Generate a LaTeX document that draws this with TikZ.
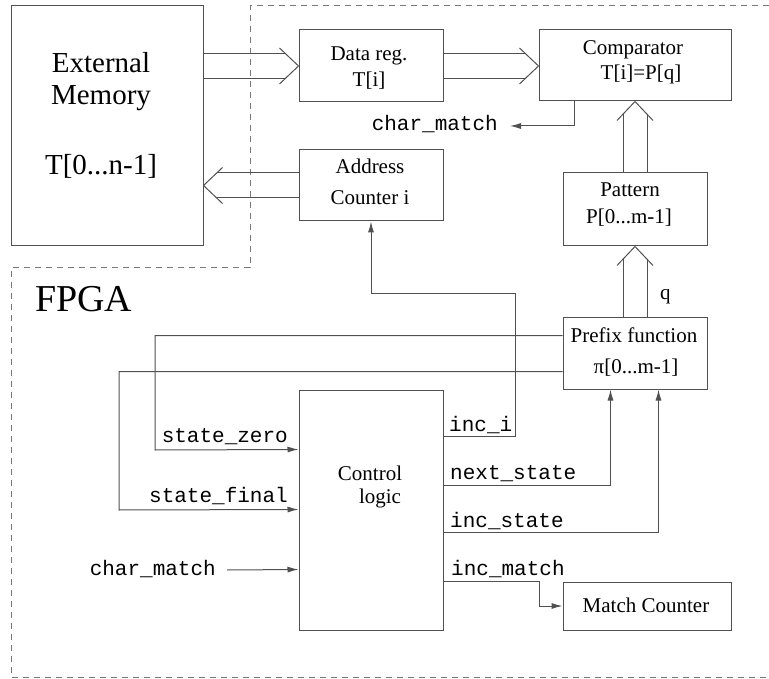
\documentclass[tikz,border=0pt]{standalone}
\usepackage{fontspec}
\setmainfont{Liberation Serif}
\setmonofont{Liberation Mono}
\usetikzlibrary{arrows.meta,calc}
\definecolor{lncol}{RGB}{80,80,80}
\definecolor{dashcol}{RGB}{120,120,120}
\tikzset{
  ln/.style={draw=lncol, line width=1pt},
  arr/.style={ln, -{Latex[length=11pt,width=6pt]}},
  blk/.style={draw=lncol, line width=1pt, inner sep=0pt, minimum width=#1},
  btxt/.style={anchor=base, inner sep=0pt, font=\fontsize{21}{25}\selectfont},
  bigtxt/.style={anchor=base, inner sep=0pt, font=\fontsize{29}{34}\selectfont},
  sig/.style={inner sep=0pt, font=\fontsize{21}{25}\selectfont\ttfamily},
  fpga/.style={draw=dashcol, line width=1pt, dash pattern=on 6pt off 5pt},
}
\begin{document}
\begin{tikzpicture}[x=1pt,y=-1pt]
\useasboundingbox (0,0) rectangle (769,679);
% FPGA boundary
\draw[fpga] (769,6) -- (250,6) -- (250,268) -- (11,268) -- (11,677) -- (769,677);
\node[anchor=base west, inner sep=0pt, font=\fontsize{38}{44}\selectfont] (fpgalbl) at (35,312) {FPGA};

% blocks
\node[blk=192pt, minimum height=240pt] (ext) at (107,126) {};
\node[bigtxt] (ext1) at (101,73) {External};
\node[bigtxt] (ext2) at (101,105) {Memory};
\node[bigtxt] (ext3) at (101,175) {T[0...n-1]};

\node[blk=144pt, minimum height=72pt] (data) at (371,66) {};
\node[btxt] (data1) at (369,61) {Data reg.};
\node[btxt] (data2) at (369,87) {T[i]};

\node[blk=192pt, minimum height=71pt] (comp) at (635,65.5) {};
\node[btxt] (comp1) at (633,55) {Comparator};
\node[btxt] (comp2) at (641,80) {T[i]=P[q]};

\node[blk=144pt, minimum height=71pt] (addr) at (371,185.5) {};
\node[btxt] (addr1) at (370,174) {Address};
\node[btxt] (addr2) at (370,205) {Counter i};

\node[blk=144pt, minimum height=73pt] (pattern) at (635,209.5) {};
\node[btxt] (pat1) at (630,197) {Pattern};
\node[btxt] (pat2) at (629,224) {P[0...m-1]};

\node[blk=144pt, minimum height=71pt] (prefix) at (635,353.5) {};
\node[btxt] (pre1) at (634,342) {Prefix function};
\node[btxt] (pre2) at (636,373) {π[0...m-1]};

\node[blk=144pt, minimum height=240pt] (ctrl) at (371,510) {};
\node[btxt] (ctl1) at (370,480) {Control};
\node[btxt] (ctl2) at (380,503) {logic};

\node[blk=168pt, minimum height=48pt] (match) at (647,606) {};
\node[btxt] (mat1) at (646,612) {Match Counter};

% double arrows (lines end where they meet the open head)
\path (ext.east |- data.west) coordinate (ed);
\draw[ln] ([yshift=12.5pt]ed) -- ([xshift=-13.2pt,yshift=12.5pt]data.west)
          ([yshift=-12.5pt]ed) -- ([xshift=-13.2pt,yshift=-12.5pt]data.west);
\draw[ln] ([xshift=-19pt,yshift=18pt]data.west) -- (data.west) -- ([xshift=-19pt,yshift=-18pt]data.west);

\path (comp.west |- data.east) coordinate (cd);
\draw[ln] ([yshift=12.5pt]data.east) -- ([xshift=-13.2pt,yshift=12.5pt]cd)
          ([yshift=-12.5pt]data.east) -- ([xshift=-13.2pt,yshift=-12.5pt]cd);
\draw[ln] ([xshift=-19pt,yshift=18pt]cd) -- (cd) -- ([xshift=-19pt,yshift=-18pt]cd);

\path (ext.east |- addr.west) coordinate (ea);
\draw[ln] ([yshift=12.5pt]addr.west) -- ([xshift=13.2pt,yshift=12.5pt]ea)
          ([yshift=-12.5pt]addr.west) -- ([xshift=13.2pt,yshift=-12.5pt]ea);
\draw[ln] ([xshift=19pt,yshift=18pt]ea) -- (ea) -- ([xshift=19pt,yshift=-18pt]ea);

\draw[ln] ([xshift=-12pt]pattern.north) -- ([xshift=-12pt,yshift=-12.7pt]comp.south)
          ([xshift=12pt]pattern.north) -- ([xshift=12pt,yshift=-12.7pt]comp.south);
\draw[ln] ([xshift=-18pt,yshift=-19pt]comp.south) -- (comp.south) -- ([xshift=18pt,yshift=-19pt]comp.south);

\draw[ln] ([xshift=-12pt]prefix.north) -- ([xshift=-12pt,yshift=-12.7pt]pattern.south)
          ([xshift=12pt]prefix.north) -- ([xshift=12pt,yshift=-12.7pt]pattern.south);
\draw[ln] ([xshift=-18pt,yshift=-19pt]pattern.south) -- (pattern.south) -- ([xshift=18pt,yshift=-19pt]pattern.south);
\node[anchor=base west, inner sep=0pt, font=\fontsize{21}{25}\selectfont] (qlbl) at (660,300) {q};

% char_match output from comparator
\coordinate (cmend) at (510,126);
\draw[arr] (comp.south west) ++(36,0) |- (cmend);
\node[sig, anchor=base east] (cmout) at (498,131) {char\_match};

% inputs to control logic
\draw[arr] ([yshift=-18pt]prefix.north west) -| (155,450) -- ([yshift=-60pt]ctrl.north west);
\node[sig, anchor=base east] (szl) at (288,442) {state\_zero};
\draw[arr] ([yshift=-54pt]prefix.north west) -| (119,510) -- ([yshift=-120pt]ctrl.north west);
\node[sig, anchor=base east] (sfl) at (288,502) {state\_final};
\coordinate (cmin) at (227,570);
\draw[arr] (cmin) -- ([yshift=-180pt]ctrl.north west);
\node[sig, anchor=base east] (cml) at (216,575) {char\_match};

% outputs of control logic
\draw[arr] ([yshift=-47pt]ctrl.north east) -| (515,294) -| (addr.south);
\node[sig, anchor=base west] (iil) at (449,431) {inc\_i};
\draw[arr] ([yshift=-96pt]ctrl.north east) -| ([xshift=48pt]prefix.south west);
\node[sig, anchor=base west] (nsl) at (450,479) {next\_state};
\draw[arr] ([yshift=-143pt]ctrl.north east) -| ([xshift=96pt]prefix.south west);
\node[sig, anchor=base west] (isl) at (450,527) {inc\_state};
\draw[arr] ([yshift=-192pt]ctrl.north east) -| (539,606) -- (match.west);
\node[sig, anchor=base west] (iml) at (451,575) {inc\_match};
\end{tikzpicture}
\end{document}
